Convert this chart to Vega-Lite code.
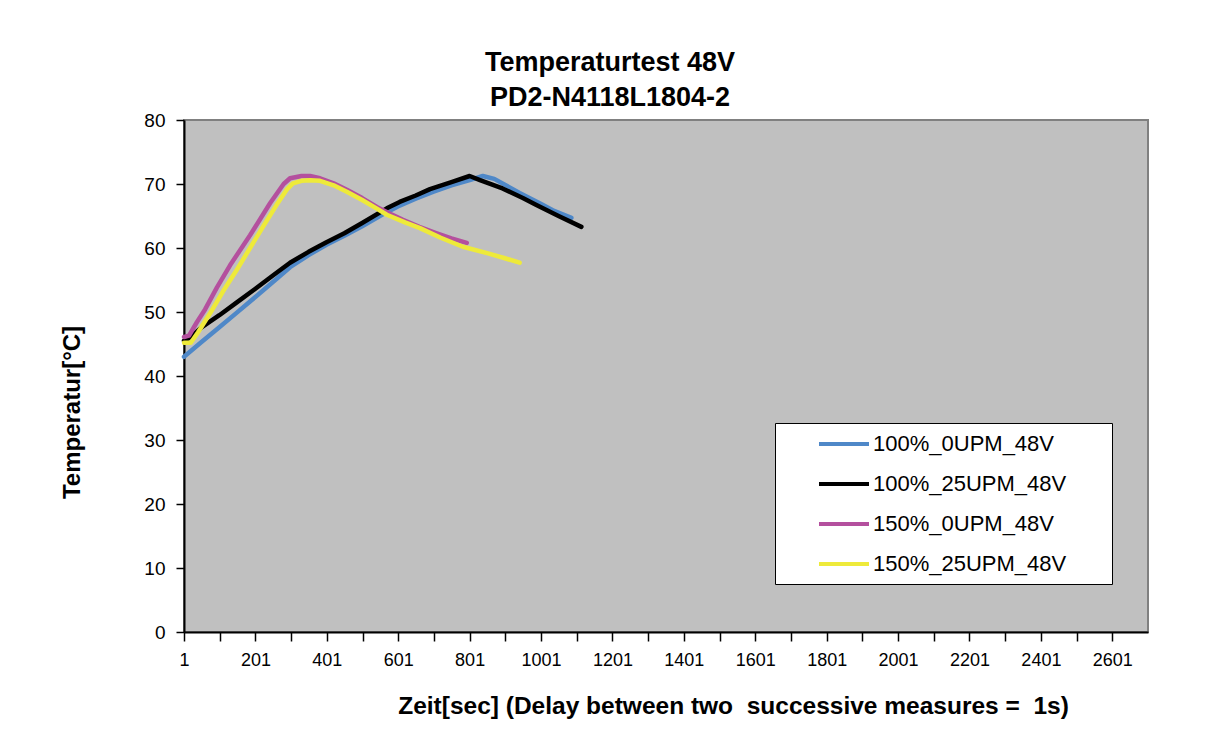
{
  "$schema": "https://vega.github.io/schema/vega-lite/v6.json",
  "width": 964,
  "height": 512,
  "autosize": {"type": "none"},
  "padding": {"left": 184, "top": 120, "right": 81, "bottom": 104},
  "background": "white",
  "title": {
    "text": ["Temperaturtest 48V", "PD2-N4118L1804-2"],
    "font": "Liberation Sans",
    "fontSize": 27,
    "fontWeight": "bold",
    "color": "black",
    "lineHeight": 35,
    "anchor": "middle",
    "frame": "group",
    "dx": -56,
    "offset": -1
  },
  "config": {
    "view": {"fill": "#c0c0c0", "stroke": "#808080", "strokeWidth": 2},
    "font": "Liberation Sans"
  },
  "data": {
    "values": [
      {"t": 1, "T": 43.0, "s": "100%_0UPM_48V"},
      {"t": 50, "T": 45.3, "s": "100%_0UPM_48V"},
      {"t": 100, "T": 47.6, "s": "100%_0UPM_48V"},
      {"t": 149, "T": 49.9, "s": "100%_0UPM_48V"},
      {"t": 200, "T": 52.3, "s": "100%_0UPM_48V"},
      {"t": 250, "T": 54.7, "s": "100%_0UPM_48V"},
      {"t": 298, "T": 57.0, "s": "100%_0UPM_48V"},
      {"t": 350, "T": 58.9, "s": "100%_0UPM_48V"},
      {"t": 400, "T": 60.5, "s": "100%_0UPM_48V"},
      {"t": 450, "T": 61.9, "s": "100%_0UPM_48V"},
      {"t": 500, "T": 63.4, "s": "100%_0UPM_48V"},
      {"t": 569, "T": 65.6, "s": "100%_0UPM_48V"},
      {"t": 600, "T": 66.5, "s": "100%_0UPM_48V"},
      {"t": 650, "T": 67.7, "s": "100%_0UPM_48V"},
      {"t": 700, "T": 68.8, "s": "100%_0UPM_48V"},
      {"t": 750, "T": 69.8, "s": "100%_0UPM_48V"},
      {"t": 801, "T": 70.6, "s": "100%_0UPM_48V"},
      {"t": 838, "T": 71.25, "s": "100%_0UPM_48V"},
      {"t": 870, "T": 70.8, "s": "100%_0UPM_48V"},
      {"t": 941, "T": 68.6, "s": "100%_0UPM_48V"},
      {"t": 1000, "T": 66.9, "s": "100%_0UPM_48V"},
      {"t": 1034, "T": 65.9, "s": "100%_0UPM_48V"},
      {"t": 1086, "T": 64.7, "s": "100%_0UPM_48V"},

      {"t": 1, "T": 45.5, "s": "100%_25UPM_48V"},
      {"t": 20, "T": 46.1, "s": "100%_25UPM_48V"},
      {"t": 50, "T": 47.6, "s": "100%_25UPM_48V"},
      {"t": 100, "T": 49.5, "s": "100%_25UPM_48V"},
      {"t": 149, "T": 51.5, "s": "100%_25UPM_48V"},
      {"t": 200, "T": 53.6, "s": "100%_25UPM_48V"},
      {"t": 250, "T": 55.7, "s": "100%_25UPM_48V"},
      {"t": 298, "T": 57.7, "s": "100%_25UPM_48V"},
      {"t": 350, "T": 59.4, "s": "100%_25UPM_48V"},
      {"t": 400, "T": 60.9, "s": "100%_25UPM_48V"},
      {"t": 450, "T": 62.3, "s": "100%_25UPM_48V"},
      {"t": 500, "T": 63.9, "s": "100%_25UPM_48V"},
      {"t": 569, "T": 66.2, "s": "100%_25UPM_48V"},
      {"t": 605, "T": 67.2, "s": "100%_25UPM_48V"},
      {"t": 650, "T": 68.2, "s": "100%_25UPM_48V"},
      {"t": 690, "T": 69.2, "s": "100%_25UPM_48V"},
      {"t": 750, "T": 70.3, "s": "100%_25UPM_48V"},
      {"t": 801, "T": 71.25, "s": "100%_25UPM_48V"},
      {"t": 830, "T": 70.6, "s": "100%_25UPM_48V"},
      {"t": 893, "T": 69.3, "s": "100%_25UPM_48V"},
      {"t": 950, "T": 67.8, "s": "100%_25UPM_48V"},
      {"t": 988, "T": 66.7, "s": "100%_25UPM_48V"},
      {"t": 1050, "T": 65.0, "s": "100%_25UPM_48V"},
      {"t": 1114, "T": 63.3, "s": "100%_25UPM_48V"},

      {"t": 1, "T": 46.1, "s": "150%_0UPM_48V"},
      {"t": 15, "T": 46.3, "s": "150%_0UPM_48V"},
      {"t": 37, "T": 48.4, "s": "150%_0UPM_48V"},
      {"t": 60, "T": 50.4, "s": "150%_0UPM_48V"},
      {"t": 93, "T": 53.8, "s": "150%_0UPM_48V"},
      {"t": 130, "T": 57.3, "s": "150%_0UPM_48V"},
      {"t": 186, "T": 62.0, "s": "150%_0UPM_48V"},
      {"t": 242, "T": 67.0, "s": "150%_0UPM_48V"},
      {"t": 280, "T": 70.0, "s": "150%_0UPM_48V"},
      {"t": 298, "T": 70.9, "s": "150%_0UPM_48V"},
      {"t": 330, "T": 71.25, "s": "150%_0UPM_48V"},
      {"t": 354, "T": 71.25, "s": "150%_0UPM_48V"},
      {"t": 382, "T": 70.9, "s": "150%_0UPM_48V"},
      {"t": 420, "T": 70.1, "s": "150%_0UPM_48V"},
      {"t": 457, "T": 69.1, "s": "150%_0UPM_48V"},
      {"t": 500, "T": 67.8, "s": "150%_0UPM_48V"},
      {"t": 541, "T": 66.4, "s": "150%_0UPM_48V"},
      {"t": 580, "T": 65.3, "s": "150%_0UPM_48V"},
      {"t": 614, "T": 64.4, "s": "150%_0UPM_48V"},
      {"t": 660, "T": 63.3, "s": "150%_0UPM_48V"},
      {"t": 709, "T": 62.3, "s": "150%_0UPM_48V"},
      {"t": 750, "T": 61.5, "s": "150%_0UPM_48V"},
      {"t": 793, "T": 60.8, "s": "150%_0UPM_48V"},

      {"t": 1, "T": 45.2, "s": "150%_25UPM_48V"},
      {"t": 20, "T": 45.2, "s": "150%_25UPM_48V"},
      {"t": 40, "T": 46.8, "s": "150%_25UPM_48V"},
      {"t": 74, "T": 49.8, "s": "150%_25UPM_48V"},
      {"t": 110, "T": 53.2, "s": "150%_25UPM_48V"},
      {"t": 149, "T": 56.6, "s": "150%_25UPM_48V"},
      {"t": 186, "T": 60.0, "s": "150%_25UPM_48V"},
      {"t": 222, "T": 63.3, "s": "150%_25UPM_48V"},
      {"t": 260, "T": 66.7, "s": "150%_25UPM_48V"},
      {"t": 290, "T": 69.2, "s": "150%_25UPM_48V"},
      {"t": 306, "T": 70.1, "s": "150%_25UPM_48V"},
      {"t": 330, "T": 70.5, "s": "150%_25UPM_48V"},
      {"t": 354, "T": 70.6, "s": "150%_25UPM_48V"},
      {"t": 382, "T": 70.5, "s": "150%_25UPM_48V"},
      {"t": 420, "T": 69.8, "s": "150%_25UPM_48V"},
      {"t": 457, "T": 68.8, "s": "150%_25UPM_48V"},
      {"t": 500, "T": 67.5, "s": "150%_25UPM_48V"},
      {"t": 540, "T": 66.2, "s": "150%_25UPM_48V"},
      {"t": 569, "T": 65.2, "s": "150%_25UPM_48V"},
      {"t": 620, "T": 64.0, "s": "150%_25UPM_48V"},
      {"t": 662, "T": 63.1, "s": "150%_25UPM_48V"},
      {"t": 720, "T": 61.6, "s": "150%_25UPM_48V"},
      {"t": 782, "T": 60.2, "s": "150%_25UPM_48V"},
      {"t": 850, "T": 59.2, "s": "150%_25UPM_48V"},
      {"t": 900, "T": 58.4, "s": "150%_25UPM_48V"},
      {"t": 941, "T": 57.7, "s": "150%_25UPM_48V"}
    ]
  },
  "mark": {"type": "line", "strokeWidth": 4.5, "strokeCap": "round", "strokeJoin": "round"},
  "encoding": {
    "x": {
      "field": "t",
      "type": "quantitative",
      "scale": {"domain": [1, 2701], "nice": false, "zero": false},
      "axis": {
        "title": "Zeit[sec] (Delay between two \u00a0successive measures = \u00a01s)",
        "titleFont": "Liberation Sans",
        "titleFontSize": 24.5,
        "titleFontWeight": "bold",
        "titleColor": "black",
        "titleX": 549,
        "titleY": 74,
        "titleAlign": "center",
        "titleBaseline": "middle",
        "values": [1, 101, 201, 301, 401, 501, 601, 701, 801, 901, 1001, 1101, 1201, 1301, 1401, 1501, 1601, 1701, 1801, 1901, 2001, 2101, 2201, 2301, 2401, 2501, 2601],
        "format": "d",
        "labelExpr": "(datum.value - 1) % 200 == 0 ? datum.label : ''",
        "labelFont": "Liberation Sans",
        "labelFontSize": 18,
        "labelColor": "black",
        "labelPadding": 10,
        "labelFlush": false,
        "labelOverlap": false,
        "tickSize": 9,
        "tickColor": "black",
        "tickWidth": 1.5,
        "domainColor": "black",
        "domainWidth": 2,
        "grid": false
      }
    },
    "y": {
      "field": "T",
      "type": "quantitative",
      "scale": {"domain": [0, 80], "nice": false},
      "axis": {
        "title": "Temperatur[°C]",
        "titleFont": "Liberation Sans",
        "titleFontSize": 24,
        "titleFontWeight": "bold",
        "titleColor": "black",
        "titleX": -112,
        "titleY": 292,
        "titleAlign": "center",
        "titleBaseline": "middle",
        "titleAngle": -90,
        "values": [0, 10, 20, 30, 40, 50, 60, 70, 80],
        "labelFont": "Liberation Sans",
        "labelFontSize": 19,
        "labelColor": "black",
        "labelPadding": 11,
        "labelFlush": false,
        "tickSize": 8,
        "tickColor": "black",
        "tickWidth": 1.5,
        "domainColor": "black",
        "domainWidth": 2,
        "grid": false
      }
    },
    "color": {
      "field": "s",
      "type": "nominal",
      "scale": {
        "domain": ["100%_0UPM_48V", "100%_25UPM_48V", "150%_0UPM_48V", "150%_25UPM_48V"],
        "range": ["#4f88c8", "#000000", "#b4509e", "#eeea3a"]
      },
      "legend": {
        "title": null,
        "orient": "none",
        "legendX": 591,
        "legendY": 303,
        "fillColor": "white",
        "strokeColor": "black",
        "padding": 9,
        "symbolType": "M-2.5,0H2.5",
        "symbolSize": 400,
        "symbolStrokeWidth": 4,
        "symbolOffset": 48,
        "labelFont": "Liberation Sans",
        "labelFontSize": 22,
        "labelColor": "black",
        "labelOffset": 17,
        "labelExpr": "datum.label + '\u00a0\u00a0\u00a0\u00a0\u00a0\u00a0\u200b'",
        "rowPadding": 17,
        "labelLimit": 400
      }
    }
  }
}
